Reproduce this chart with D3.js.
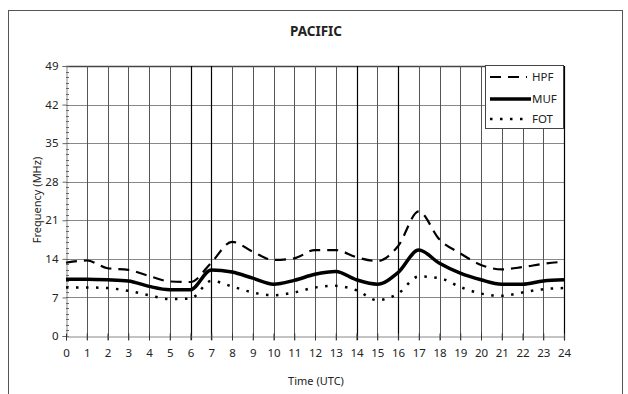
<!DOCTYPE html>
<html>
<head>
<meta charset="utf-8">
<script src="https://cdn.jsdelivr.net/npm/d3@7"></script>
<style>
  body { margin: 0; background: #fff; }
  text { font-family: "Noto Sans", "Open Sans", sans-serif; fill: #222; }
</style>
</head>
<body>
<svg id="chart" width="628" height="394"></svg>
<script>
"use strict";

// hours of the day (UTC)
var hours = d3.range(0, 25);
var yTicks = [0, 7, 14, 21, 28, 35, 42, 49];

// values, one per hour
var hpf = [13.3, 13.7, 12.3, 12.0, 10.9, 9.9, 9.8, 13.3, 17.1, 15.3, 13.8, 14.1, 15.6,
           15.6, 14.3, 13.6, 16.3, 22.6, 17.5, 15.0, 12.9, 12.1, 12.5, 13.1, 13.5];
var muf = [10.3, 10.3, 10.2, 10.0, 9.0, 8.4, 8.4, 12.0, 11.6, 10.5, 9.4, 10.1, 11.2,
           11.7, 10.2, 9.4, 11.5, 15.6, 13.2, 11.4, 10.2, 9.4, 9.4, 10.0, 10.2];
var fot = [8.8, 8.8, 8.7, 8.2, 7.4, 6.7, 6.8, 10.0, 9.0, 7.9, 7.4, 7.9, 8.8,
           9.1, 8.3, 6.5, 7.7, 10.8, 10.5, 8.9, 7.7, 7.3, 7.9, 8.5, 8.7];

var series = [
  { name: 'HPF', values: hpf, width: 2.2, dash: '11,7' },
  { name: 'MUF', values: muf, width: 3.5, dash: null },
  { name: 'FOT', values: fot, width: 2.5, dash: '2.5,7.5' }
];

var svg = d3.select('#chart');
var pLeft = 66, pRight = 564, pTop = 66, pBottom = 336;

var x = d3.scaleLinear().domain([0, 24]).range([pLeft, pRight]);
var y = d3.scaleLinear().domain([0, 49]).range([pBottom, pTop]);

// outer frame
svg.append('rect')
  .attr('x', 8.5).attr('y', 10.5).attr('width', 614).attr('height', 400)
  .attr('fill', 'none').attr('stroke', '#555').attr('stroke-width', 1);

// horizontal grid
svg.append('g').selectAll('line').data(yTicks.slice(1)).enter().append('line')
  .attr('x1', pLeft).attr('x2', pRight)
  .attr('y1', d => Math.round(y(d)) + 0.5).attr('y2', d => Math.round(y(d)) + 0.5)
  .attr('stroke', d => d === 49 ? '#444' : '#888')
  .attr('stroke-width', d => d === 49 ? 1.5 : 1);

// vertical grid, some hours a bit darker
var heavy = [6, 7, 14, 16, 24];
svg.append('g').selectAll('line').data(hours.slice(1)).enter().append('line')
  .attr('x1', d => Math.round(x(d)) + 0.5).attr('x2', d => Math.round(x(d)) + 0.5)
  .attr('y1', pTop).attr('y2', pBottom + 4)
  .attr('stroke', d => heavy.includes(d) ? '#000' : '#555')
  .attr('stroke-width', d => heavy.includes(d) ? 1.2 : 1);

// y axis with minor ticks inside
var yAxis = svg.append('g').attr('transform', 'translate(' + (pLeft + 0.5) + ',0)')
  .call(d3.axisLeft(y).tickValues(yTicks).tickSize(4).tickPadding(4));
yAxis.select('.domain').attr('stroke', '#888');
yAxis.selectAll('.tick line').attr('stroke', '#666');
yAxis.selectAll('text').style('font-size', '11.5px').attr('fill', '#333');
svg.append('g').selectAll('line').data(d3.range(0, 50)).enter().append('line')
  .attr('x1', pLeft).attr('x2', pLeft + 3)
  .attr('y1', d => Math.round(y(d)) + 0.5).attr('y2', d => Math.round(y(d)) + 0.5)
  .attr('stroke', '#666');

// x axis
var xAxis = svg.append('g').attr('transform', 'translate(0,' + (pBottom + 0.5) + ')')
  .call(d3.axisBottom(x).tickValues(hours).tickFormat(d3.format('d')).tickSize(4).tickPadding(8));
xAxis.select('.domain').attr('stroke', '#888');
xAxis.selectAll('.tick line').attr('stroke', '#333').attr('y1', -3);
xAxis.selectAll('text').style('font-size', '11.5px').attr('fill', '#333');

// lines
var line = d3.line().x((d, i) => x(hours[i])).y(d => y(d)).curve(d3.curveMonotoneX);
svg.append('g').selectAll('path').data(series).enter().append('path')
  .attr('d', s => line(s.values))
  .attr('fill', 'none').attr('stroke', '#000')
  .attr('stroke-width', s => s.width)
  .attr('stroke-dasharray', s => s.dash);

// legend
var lg = svg.append('g');
lg.append('rect').attr('x', 485.5).attr('y', 65.5).attr('width', 78).attr('height', 63)
  .attr('fill', '#fff').attr('stroke', '#444');
var rows = lg.selectAll('g').data(series).enter().append('g')
  .attr('transform', (s, i) => 'translate(0,' + [77, 99, 119][i] + ')');
rows.append('line').attr('x1', 490).attr('x2', s => s.name === 'MUF' ? 531 : 527)
  .attr('stroke', '#000').attr('stroke-width', s => s.width)
  .attr('stroke-dasharray', s => s.dash);
rows.append('text').attr('x', 532).attr('dy', '0.35em')
  .style('font-size', '11.5px').text(s => s.name);

// titles
svg.append('text').attr('x', 316).attr('y', 36).attr('text-anchor', 'middle')
  .style('font-size', '13.5px').style('font-weight', 'bold').text('PACIFIC');
svg.append('text').attr('x', 316).attr('y', 385).attr('text-anchor', 'middle')
  .style('font-size', '11px').text('Time (UTC)');
svg.append('text').attr('transform', 'translate(41,200) rotate(-90)')
  .attr('text-anchor', 'middle').style('font-size', '11px').text('Frequency (MHz)');
</script>
</body>
</html>
